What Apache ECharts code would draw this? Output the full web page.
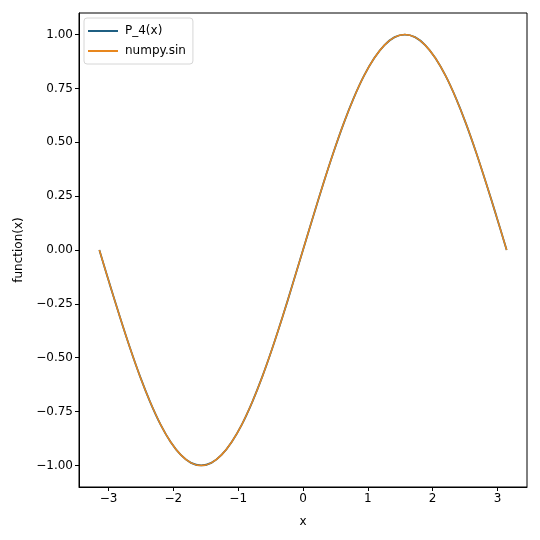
<!DOCTYPE html>
<html><head><meta charset="utf-8">
<script src="https://cdn.jsdelivr.net/npm/echarts@6/dist/echarts.min.js"></script>
<style>html,body{margin:0;padding:0;background:#fff}#c{width:540px;height:540px}</style>
</head><body><div id="c"></div>
<script>
const xValues = [-3.142,-2.985,-2.827,-2.670,-2.513,-2.356,-2.199,-2.042,-1.885,-1.728,-1.571,-1.414,-1.257,-1.100,-0.942,-0.785,-0.628,-0.471,-0.314,-0.157,0,0.157,0.314,0.471,0.628,0.785,0.942,1.100,1.257,1.414,1.571,1.728,1.885,2.042,2.199,2.356,2.513,2.670,2.827,2.985,3.142];
const p4Values = [0,-0.156,-0.309,-0.454,-0.588,-0.707,-0.809,-0.891,-0.951,-0.988,-1.0,-0.988,-0.951,-0.891,-0.809,-0.707,-0.588,-0.454,-0.309,-0.156,0,0.156,0.309,0.454,0.588,0.707,0.809,0.891,0.951,0.988,1.0,0.988,0.951,0.891,0.809,0.707,0.588,0.454,0.309,0.156,0];
const sinValues = [0,-0.156,-0.309,-0.454,-0.588,-0.707,-0.809,-0.891,-0.951,-0.988,-1.0,-0.988,-0.951,-0.891,-0.809,-0.707,-0.588,-0.454,-0.309,-0.156,0,0.156,0.309,0.454,0.588,0.707,0.809,0.891,0.951,0.988,1.0,0.988,0.951,0.891,0.809,0.707,0.588,0.454,0.309,0.156,0];
const xTicks = [-3,-2,-1,0,1,2,3];
const yTicks = [-1,-0.75,-0.5,-0.25,0,0.25,0.5,0.75,1];
const seriesNames = ['P_4(x)','numpy.sin'];

const font = 'DejaVu Sans';
const fmtMinus = s => s.replace('-', '\u2212');
const chart = echarts.init(document.getElementById('c'), null, {renderer:'canvas'});
chart.setOption({
  animation:false,
  backgroundColor:'#fff',
  grid:{left:79,right:13,top:13,bottom:53,show:true,borderColor:'#000',borderWidth:1,backgroundColor:'transparent'},
  legend:{
    left:84, top:18, orient:'vertical',
    backgroundColor:'rgba(255,255,255,0.8)', borderColor:'#d6d6d6', borderWidth:1, borderRadius:3,
    padding:[7,7,7,4], itemGap:8, itemWidth:30, itemHeight:12,
    textStyle:{fontFamily:font,fontSize:12,color:'#000',padding:[0,0,0,2]},
    data:seriesNames.map(n=>({name:n,icon:'path://M0,5L30,5L30,7L0,7Z'}))
  },
  xAxis:{
    type:'value', min:-3.456, max:3.456,
    name:'x', nameLocation:'middle', nameGap:29,
    nameTextStyle:{fontFamily:font,fontSize:12,color:'#000'},
    axisLine:{show:true,onZero:false,lineStyle:{color:'#000',width:1}},
    axisTick:{show:true,inside:false,length:4,customValues:xTicks,lineStyle:{color:'#000'}},
    axisLabel:{customValues:xTicks,fontFamily:font,fontSize:12,color:'#000',margin:6,formatter:v=>fmtMinus(String(v))},
    splitLine:{show:false}
  },
  yAxis:{
    type:'value', min:-1.1, max:1.1,
    name:'function(x)', nameLocation:'middle', nameGap:50, nameRotate:90,
    nameTextStyle:{fontFamily:font,fontSize:12,color:'#000'},
    axisLine:{show:true,onZero:false,lineStyle:{color:'#000',width:1}},
    axisTick:{show:true,inside:false,length:4,customValues:yTicks,lineStyle:{color:'#000'}},
    axisLabel:{customValues:yTicks,fontFamily:font,fontSize:12,color:'#000',margin:6,formatter:v=>fmtMinus(v.toFixed(2))},
    splitLine:{show:false}
  },
  series:[
    {name:seriesNames[0],type:'line',showSymbol:false,smooth:0.35,color:'#1f5f82',lineStyle:{width:1.8,color:'#1f5f82'},data:xValues.map((x,i)=>[x,p4Values[i]])},
    {name:seriesNames[1],type:'line',showSymbol:false,smooth:0.35,color:'#e8871e',lineStyle:{width:1.5,color:'#e8871e'},data:xValues.map((x,i)=>[x,sinValues[i]])}
  ]
});
</script></body></html>
